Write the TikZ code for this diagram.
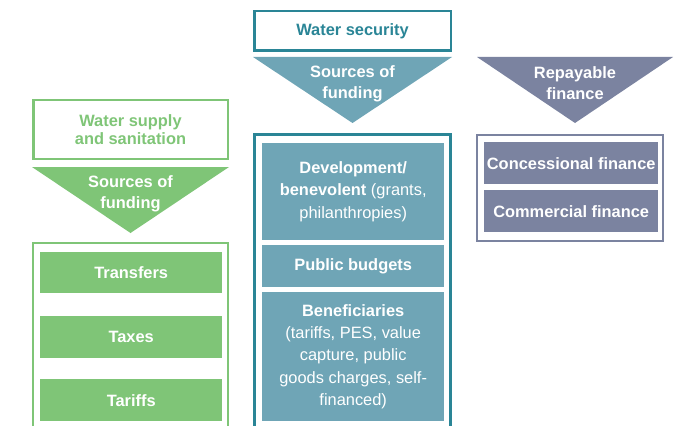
\documentclass[tikz,border=0pt]{standalone}
\usepackage{fontspec}
\setmainfont{Liberation Sans}
\definecolor{wssgreen}{HTML}{7FC577}
\definecolor{wsteal}{HTML}{2A8596}
\definecolor{wsfill}{HTML}{6FA5B6}
\definecolor{rpfill}{HTML}{7B83A0}
\begin{document}
\begin{tikzpicture}[x=1pt,y=-1pt,
    lbl/.style={font=\fontsize{16.4}{20.5}\selectfont\bfseries, align=center, inner sep=0pt},
    head/.style={lbl, draw=#1, text=#1, line width=2.5pt},
    item/.style={lbl, fill=#1, text=white, anchor=north west},
    frame/.style={draw=#1, line width=2.2pt}]
  \useasboundingbox (0,0) rectangle (684,425);

  % water supply and sanitation
  \node[head=wssgreen, minimum width=194.5pt, minimum height=58.5pt,
    font=\fontsize{16.4}{18.5}\selectfont\bfseries] (wss) at (130.5,129.5) {Water supply\\and sanitation};
  \fill[wssgreen] (32,167) -- (229,167) -- (130.5,233) -- cycle;
  \node[lbl, text=white] (wsssrc) at (130.5,194) {Sources of\\funding};
  \draw[frame=wssgreen] (33,426) |- (228,243) -- (228,426);
  \node[item=wssgreen, minimum width=182pt, minimum height=41pt] (transfers) at (40,252) {Transfers};
  \node[item=wssgreen, minimum width=182pt, minimum height=42pt] (taxes) at (40,316) {Taxes};
  \node[item=wssgreen, minimum width=182pt, minimum height=42pt] (tariffs) at (40,379) {Tariffs};

  % water security
  \node[head=wsteal, minimum width=196.5pt, minimum height=39.5pt] (ws) at (352.5,31) {Water security};
  \fill[wsfill] (253,57) -- (452,57) -- (352.5,123) -- cycle;
  \node[lbl, text=white] (wssrc) at (352.5,84) {Sources of\\funding};
  \draw[frame=wsteal] (254.5,426) |- (450.5,134.5) -- (450.5,426);
  \node[item=wsfill, minimum width=182pt, minimum height=97pt,
    font=\fontsize{16.4}{22.5}\selectfont\bfseries] (dev) at (262,143)
    {Development/\\benevolent {\mdseries(grants,}\\{\mdseries philanthropies)}};
  \node[item=wsfill, minimum width=182pt, minimum height=42pt] (budgets) at (262,245) {Public budgets};
  \node[item=wsfill, minimum width=182pt, minimum height=129pt,
    font=\fontsize{16.4}{22.3}\selectfont\bfseries] (benef) at (262,292)
    {Beneficiaries\\{\mdseries(tariffs, PES, value}\\{\mdseries capture, public}\\{\mdseries goods charges, self-}\\{\mdseries financed)}};

  % repayable finance
  \fill[rpfill] (477,57) -- (673,57) -- (575,123) -- cycle;
  \node[lbl, text=white] (rpf) at (575,83) {Repayable\\finance};
  \draw[frame=rpfill] (477,135) rectangle (663,241);
  \node[item=rpfill, minimum width=174pt, minimum height=42pt] (conc) at (484,142) {Concessional finance};
  \node[item=rpfill, minimum width=174pt, minimum height=42pt] (comm) at (484,190) {Commercial finance};
\end{tikzpicture}
\end{document}
